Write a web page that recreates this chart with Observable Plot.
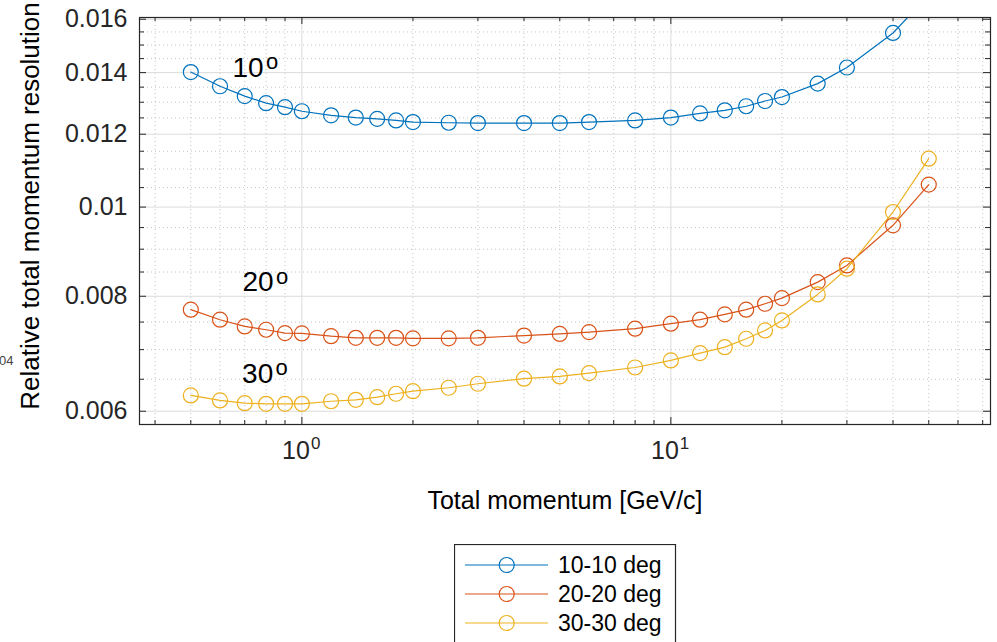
<!DOCTYPE html>
<html><head><meta charset="utf-8">
<script src="https://cdn.jsdelivr.net/npm/d3@7"></script>
<script src="https://cdn.jsdelivr.net/npm/@observablehq/plot@0.6"></script>
<style>
body{margin:0;background:#fff;width:997px;height:642px;overflow:hidden;position:relative;font-family:"Liberation Sans",Arial,Helvetica,sans-serif;}
#chart{position:absolute;left:0;top:0;}
#legend{position:absolute;left:454px;top:544px;}
</style></head><body>
<div id="chart"></div>
<div id="legend"></div>
<script>
// ---- data ----
const momentum = [0.5,0.6,0.7,0.8,0.9,1,1.2,1.4,1.6,1.8,2,2.5,3,4,5,6,8,10,12,14,16,18,20,25,30,40,50];
const res10 = [0.01402,0.01353,0.01320,0.01297,0.01284,0.01271,0.01258,0.01251,0.01247,0.01242,0.01237,0.01235,0.01234,0.01234,0.01234,0.01237,0.01242,0.01251,0.01264,0.01274,0.01287,0.01304,0.01317,0.01362,0.01418,0.01546,0.01700];
const res20 = [0.007736,0.007544,0.007418,0.007357,0.007295,0.007290,0.007240,0.007210,0.007210,0.007210,0.007200,0.007200,0.007210,0.007250,0.007280,0.007313,0.007376,0.007469,0.007544,0.007645,0.007736,0.007851,0.007963,0.008288,0.008642,0.009554,0.010578];
const res30 = [0.006242,0.006164,0.006122,0.006112,0.006112,0.006112,0.006152,0.006174,0.006215,0.006268,0.006309,0.006363,0.006427,0.006509,0.006546,0.006600,0.006694,0.006813,0.006939,0.007043,0.007193,0.007344,0.007531,0.008037,0.008571,0.009877,0.011288];
const seriesNames = ["10-10 deg","20-20 deg","30-30 deg"];
const seriesColors = ["#0072BD","#D95319","#EDB120"];
const yTicksMajor = [0.006,0.008,0.01,0.012,0.014,0.016];
const yTicksMinor = [0.0065,0.007,0.0075,0.0085,0.009,0.0095,0.0105,0.011,0.0115,0.0125,0.013,0.0135,0.0145,0.015,0.0155];
const xTicksMajor = [1,10];
const xTickBase = ["10","10"];
const xTickExp = ["0","1"];
const xTicksMinor = [0.4,0.5,0.6,0.7,0.8,0.9,2,3,4,5,6,7,8,9,20,30,40,50,60,70];
const annoText = ["10","20","30"];
const annoX = [0.715,0.761,0.759];
const annoY = [0.01415,0.00828,0.00659];
const xLabel = "Total momentum [GeV/c]";
const yLabel = "Relative total momentum resolution";
const strayText = "04";

// ---- build ----
const seriesValues = [res10,res20,res30];
const table = [];
seriesNames.forEach((s,k)=>momentum.forEach((p,i)=>table.push({p, v: seriesValues[k][i], s})));

const W = 997, H = 530, mL = 139, mR = 7, mT = 17, mB = 106;
const PW = W - mL - mR, PH = H - mT - mB;
const axisColor = "#262626";
const font = "Liberation Sans, Arial, Helvetica, sans-serif";

const plot = Plot.plot({
  width: W, height: H,
  marginLeft: mL, marginRight: mR, marginTop: mT, marginBottom: mB,
  style: {fontFamily: font, background: "#fff", overflow: "visible"},
  x: {type: "log", domain: [0.363, 73.5], axis: null},
  y: {type: "log", domain: [0.005804, 0.01607], axis: null},
  color: {domain: seriesNames, range: seriesColors},
  marks: [
    Plot.gridX(xTicksMinor, {stroke: "#c4c4c4", strokeOpacity: 1, strokeDasharray: "1,3"}),
    Plot.gridY(yTicksMinor, {stroke: "#c4c4c4", strokeOpacity: 1, strokeDasharray: "1,3"}),
    Plot.gridX(xTicksMajor, {stroke: "#dcdcdc", strokeOpacity: 1}),
    Plot.gridY(yTicksMajor, {stroke: "#dcdcdc", strokeOpacity: 1}),
    Plot.line(table, {x: "p", y: "v", z: "s", stroke: "s", strokeWidth: 1.2, clip: true}),
    Plot.dot(table, {x: "p", y: "v", stroke: "s", r: 7.5, strokeWidth: 1.2, fill: "none", clip: true}),
    Plot.frame({stroke: axisColor, strokeWidth: 1.2}),
    // inward ticks
    Plot.tickY(yTicksMajor, {y: d => d, stroke: axisColor, insetRight: PW - 7}),
    Plot.tickY(yTicksMajor, {y: d => d, stroke: axisColor, insetLeft: PW - 7}),
    Plot.tickY(yTicksMinor, {y: d => d, stroke: axisColor, insetRight: PW - 5}),
    Plot.tickY(yTicksMinor, {y: d => d, stroke: axisColor, insetLeft: PW - 5}),
    Plot.tickX(xTicksMajor, {x: d => d, stroke: axisColor, insetTop: PH - 7}),
    Plot.tickX(xTicksMajor, {x: d => d, stroke: axisColor, insetBottom: PH - 7}),
    Plot.tickX(xTicksMinor, {x: d => d, stroke: axisColor, insetTop: PH - 4}),
    Plot.tickX(xTicksMinor, {x: d => d, stroke: axisColor, insetBottom: PH - 4}),
    // tick labels
    Plot.text(yTicksMajor, {y: d => d, text: d => String(d), frameAnchor: "left", textAnchor: "end", dx: -12, fontSize: 25, fill: axisColor}),
    Plot.text(xTicksMajor, {x: d => d, text: (d, i) => xTickBase[i], frameAnchor: "bottom", textAnchor: "end", dx: 8, dy: 34, fontSize: 25, fill: axisColor}),
    Plot.text(xTicksMajor, {x: d => d, text: (d, i) => xTickExp[i], frameAnchor: "bottom", textAnchor: "start", dx: 9, dy: 24, fontSize: 17, fill: axisColor}),
    // axis labels
    Plot.text([xLabel], {text: d => d, frameAnchor: "bottom", textAnchor: "middle", dy: 84, fontSize: 25, fill: "#000"}),
    Plot.text([yLabel], {text: d => d, frameAnchor: "left", textAnchor: "middle", rotate: -90, dx: -109, dy: -15, fontSize: 26, fill: "#000"}),
    Plot.text([strayText], {text: d => d, frameAnchor: "left", textAnchor: "end", dx: -126, dy: 140, fontSize: 13, fill: "#444"}),
    // annotations
    Plot.text(annoText, {x: (d, i) => annoX[i], y: (d, i) => annoY[i], text: d => d, fontSize: 28, fill: "#000"}),
    Plot.text(annoText, {x: (d, i) => annoX[i], y: (d, i) => annoY[i], text: () => "o", dx: 24, dy: -6, fontSize: 22, fill: "#000"})
  ]
});
document.getElementById("chart").appendChild(plot);

// ---- legend ----
const lg = d3.select("#legend").append("svg").attr("width", 230).attr("height", 100)
  .style("font-family", font);
lg.append("rect").attr("x", 0.5).attr("y", 0.5).attr("width", 221).attr("height", 130)
  .attr("fill", "#fff").attr("stroke", axisColor).attr("stroke-width", 1.2);
seriesNames.forEach((name, k) => {
  const cy = 21 + k * 29;
  const g = lg.append("g");
  g.append("line").attr("x1", 11).attr("x2", 94).attr("y1", cy).attr("y2", cy)
    .attr("stroke", seriesColors[k]).attr("stroke-width", 1.2);
  g.append("circle").attr("cx", 52.7).attr("cy", cy).attr("r", 7.5)
    .attr("fill", "none").attr("stroke", seriesColors[k]).attr("stroke-width", 1.2);
  g.append("text").attr("x", 104).attr("y", cy).attr("dy", "0.35em")
    .attr("font-size", 23).attr("fill", "#000").text(name);
});
</script>
</body></html>
